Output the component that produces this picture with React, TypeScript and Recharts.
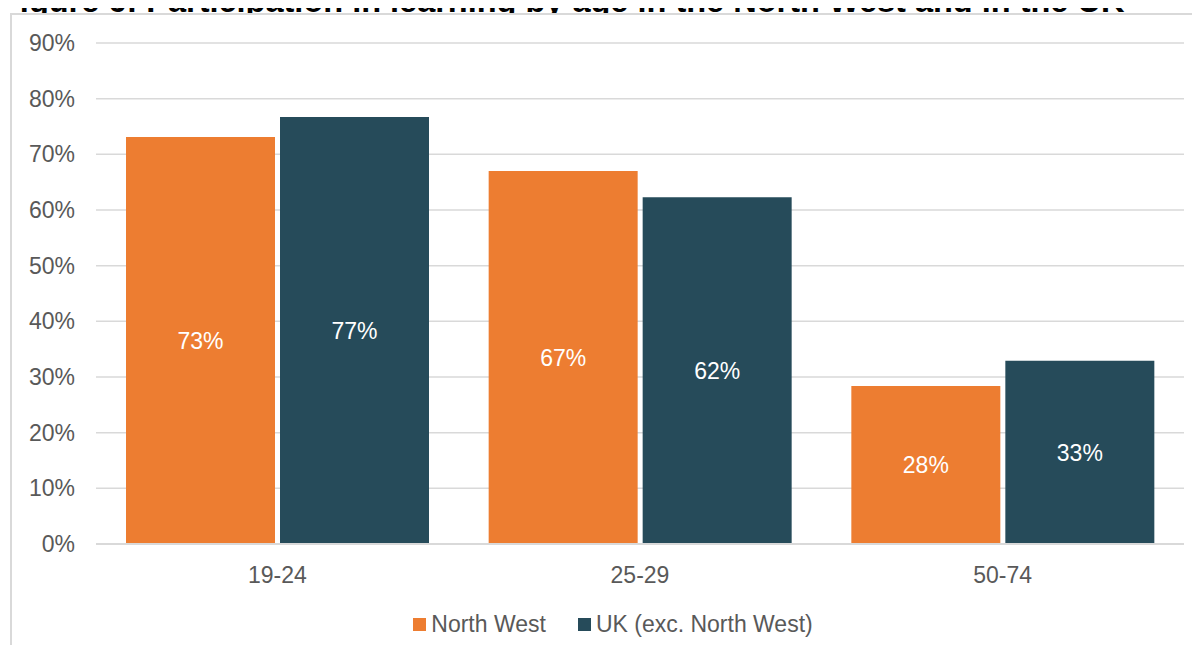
import React from 'react'
import {
  BarChart,
  Bar,
  XAxis,
  YAxis,
  CartesianGrid,
  Legend,
  LabelList,
} from 'recharts'

const AGE_GROUPS = ['19-24', '25-29', '50-74']
const NORTH_WEST = [73.1, 67, 28.4]
const UK_EXC_NW = [76.7, 62.3, 32.9]
const Y_TICKS = [0, 10, 20, 30, 40, 50, 60, 70, 80, 90]

const SERIES = [
  { key: 'nw', name: 'North West', color: '#ED7D31' },
  { key: 'uk', name: 'UK (exc. North West)', color: '#264B5A' },
]

const data = AGE_GROUPS.map((age, i) => ({
  age,
  nw: NORTH_WEST[i],
  uk: UK_EXC_NW[i],
}))

const FONT = '"Liberation Sans", Arial, sans-serif'
const GREY_TEXT = '#595959'
const GRID = '#d9d9d9'
const FS = 23

const pct = (v: any) => `${Math.round(Number(v))}%`

function LegendBox() {
  return (
    <div
      style={{
        display: 'flex',
        justifyContent: 'center',
        alignItems: 'center',
        fontFamily: FONT,
        fontSize: FS,
        color: GREY_TEXT,
      }}
    >
      {SERIES.map((s, i) => (
        <div
          key={s.key}
          style={{ display: 'flex', alignItems: 'center', marginLeft: i ? 32 : 0 }}
        >
          <span
            style={{ width: 13, height: 13, background: s.color, marginRight: 5, display: 'inline-block' }}
          />
          <span>{s.name}</span>
        </div>
      ))}
    </div>
  )
}

export default function App() {
  return (
    <div
      style={{
        position: 'relative',
        margin: -8,
        width: 1200,
        height: 653,
        overflow: 'hidden',
        background: '#fff',
        fontFamily: FONT,
      }}
    >
      <div
        style={{
          position: 'absolute',
          left: 0,
          top: -15,
          fontSize: 32.5,
          lineHeight: '32px',
          fontWeight: 'bold',
          color: '#000',
          whiteSpace: 'nowrap',
        }}
      >
        Figure 6: Participation in learning by age in the North West and in the UK
      </div>
      <div
        style={{
          position: 'absolute',
          left: 10,
          top: 13,
          width: 1220,
          height: 700,
          border: `2px solid ${GRID}`,
          boxSizing: 'border-box',
          background: '#fff',
        }}
      />
      <div style={{ position: 'absolute', left: 0, top: 0 }}>
        <BarChart
          width={1200}
          height={653}
          data={data}
          margin={{ top: 43, right: 16, bottom: 79, left: 0 }}
          barCategoryGap={30}
          barGap={5}
        >
          <CartesianGrid vertical={false} stroke={GRID} strokeWidth={1.5} />
          <XAxis
            dataKey="age"
            height={30}
            tickLine={false}
            tickSize={0}
            tickMargin={23}
            axisLine={{ stroke: GRID, strokeWidth: 2 }}
            tick={{ fill: GREY_TEXT, fontSize: FS, fontFamily: FONT }}
          />
          <YAxis
            width={96}
            domain={[0, 90]}
            ticks={Y_TICKS}
            tickFormatter={pct}
            axisLine={false}
            tickLine={false}
            tickSize={0}
            tickMargin={21}
            tick={{ fill: GREY_TEXT, fontSize: FS, fontFamily: FONT }}
          />
          <Legend
            verticalAlign="middle"
            layout="horizontal"
            content={() => <LegendBox />}
            wrapperStyle={{ top: 611, left: 0, width: 1226 }}
          />
          {SERIES.map((s) => (
            <Bar key={s.key} dataKey={s.key} name={s.name} fill={s.color} isAnimationActive={false}>
              <LabelList
                dataKey={s.key}
                position="center"
                formatter={pct}
                fill="#fff"
                fontSize={FS}
                fontFamily={FONT}
              />
            </Bar>
          ))}
        </BarChart>
      </div>
    </div>
  )
}
